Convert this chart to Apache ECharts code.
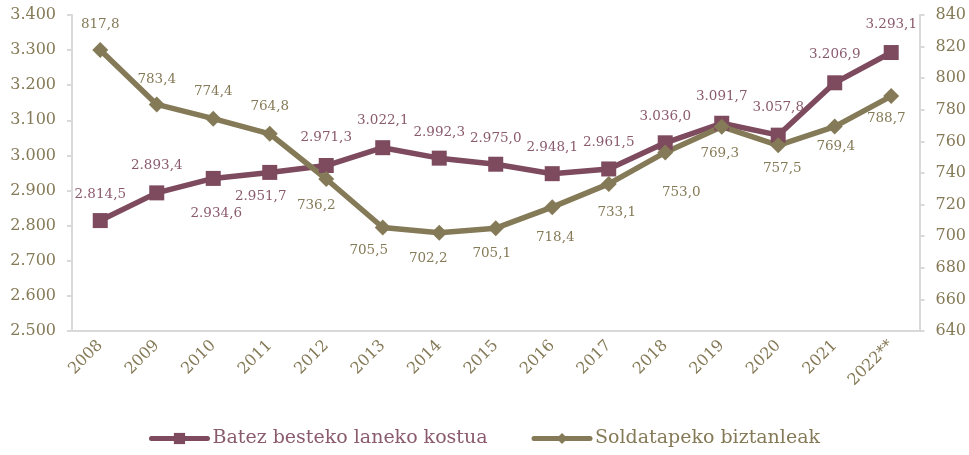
<!DOCTYPE html>
<html>
<head>
<meta charset="utf-8">
<script src="https://cdn.jsdelivr.net/npm/echarts@6/dist/echarts.min.js"></script>
<style>
  html, body { margin: 0; padding: 0; background: #fff; }
  #main { width: 969px; height: 455px; }
</style>
</head>
<body>
<div id="main"></div>
<script>
var years = ['2008', '2009', '2010', '2011', '2012', '2013', '2014', '2015', '2016', '2017', '2018', '2019', '2020', '2021', '2022**'];
var laneKostua = [2814.5, 2893.4, 2934.6, 2951.7, 2971.3, 3022.1, 2992.3, 2975.0, 2948.1, 2961.5, 3036.0, 3091.7, 3057.8, 3206.9, 3293.1];
var biztanleak = [817.8, 783.4, 774.4, 764.8, 736.2, 705.5, 702.2, 705.1, 718.4, 733.1, 753.0, 769.3, 757.5, 769.4, 788.7];

// etiketen kokapena (puntuarekiko desplazamendua, px)
var kostuaOffset = [[0, -26], [0, -27], [3, 35], [-9, 24], [0, -28], [0, -27], [0, -26], [0, -26], [0, -26], [0, -26], [0, -26], [0, -27], [0, -28], [0, -28], [0, -28]];
var biztOffset = [[0, -26], [0, -25], [0, -27], [0, -27], [-10, 26], [-14, 23], [-11, 26], [-4, 25], [3, 30], [8, 29], [16, 40], [-2, 27], [4, 23], [1, 20], [-5, 22]];

var maroon = '#7d4a5e';
var olive = '#857a57';
var maroonText = '#8a5a6d';
var font = 'DejaVu Serif';

// 1.234,5 formatua
function fmt(v, dec) {
  var s = v.toFixed(dec).split('.');
  var ent = s[0].replace(/(\d)(?=(?:\d{3})+$)/g, '$1.');
  return s.length > 1 ? ent + ',' + s[1] : ent;
}

function buildData(vals, offs) {
  return vals.map(function (v, i) {
    return { value: v, label: { offset: offs[i] } };
  });
}

var myChart = echarts.init(document.getElementById('main'));
var option = {
  animation: false,
  textStyle: { fontFamily: font },
  grid: { left: 72, right: 48, top: 15, bottom: 124 },
  legend: {
    bottom: 2,
    left: 'center',
    itemWidth: 56,
    itemHeight: 14,
    itemGap: 44,
    lineStyle: { width: 5, cap: 'round' },
    textStyle: { fontFamily: font, fontSize: 19 },
    data: [
      { name: 'Batez besteko laneko kostua', textStyle: { color: maroonText } },
      { name: 'Soldatapeko biztanleak', textStyle: { color: olive } }
    ]
  },
  xAxis: {
    type: 'category',
    data: years,
    boundaryGap: true,
    axisLine: { lineStyle: { color: '#d9d9d9', width: 2 } },
    axisTick: { show: false },
    axisLabel: { color: olive, fontSize: 16, rotate: 45, margin: 12, interval: 0, fontFamily: font }
  },
  yAxis: [
    {
      type: 'value',
      min: 2500,
      max: 3400,
      interval: 100,
      splitLine: { show: false },
      axisLine: { show: true, lineStyle: { color: '#d9d9d9', width: 2 } },
      axisTick: { show: true, length: 5, lineStyle: { color: '#d9d9d9', width: 2 } },
      axisLabel: { color: olive, fontSize: 16, margin: 16, fontFamily: font, formatter: function (v) { return fmt(v, 0); } }
    },
    {
      type: 'value',
      min: 640,
      max: 840,
      interval: 20,
      splitLine: { show: false },
      axisLine: { show: true, lineStyle: { color: '#d9d9d9', width: 2 } },
      axisTick: { show: true, length: 5, lineStyle: { color: '#d9d9d9', width: 2 } },
      axisLabel: { color: olive, fontSize: 16, margin: 16, fontFamily: font }
    }
  ],
  series: [
    {
      name: 'Batez besteko laneko kostua',
      type: 'line',
      yAxisIndex: 0,
      data: buildData(laneKostua, kostuaOffset),
      symbol: 'rect',
      symbolSize: 15,
      lineStyle: { color: maroon, width: 5.5 },
      itemStyle: { color: maroon },
      label: {
        show: true,
        position: 'inside',
        color: maroonText,
        fontSize: 13.5,
        fontFamily: font,
        formatter: function (p) { return fmt(p.value, 1); }
      }
    },
    {
      name: 'Soldatapeko biztanleak',
      type: 'line',
      yAxisIndex: 1,
      data: buildData(biztanleak, biztOffset),
      symbol: 'diamond',
      symbolSize: 16,
      lineStyle: { color: olive, width: 5.5 },
      itemStyle: { color: olive },
      label: {
        show: true,
        position: 'inside',
        color: olive,
        fontSize: 13.5,
        fontFamily: font,
        formatter: function (p) { return fmt(p.value, 1); }
      }
    }
  ]
};
myChart.setOption(option);
</script>
</body>
</html>
